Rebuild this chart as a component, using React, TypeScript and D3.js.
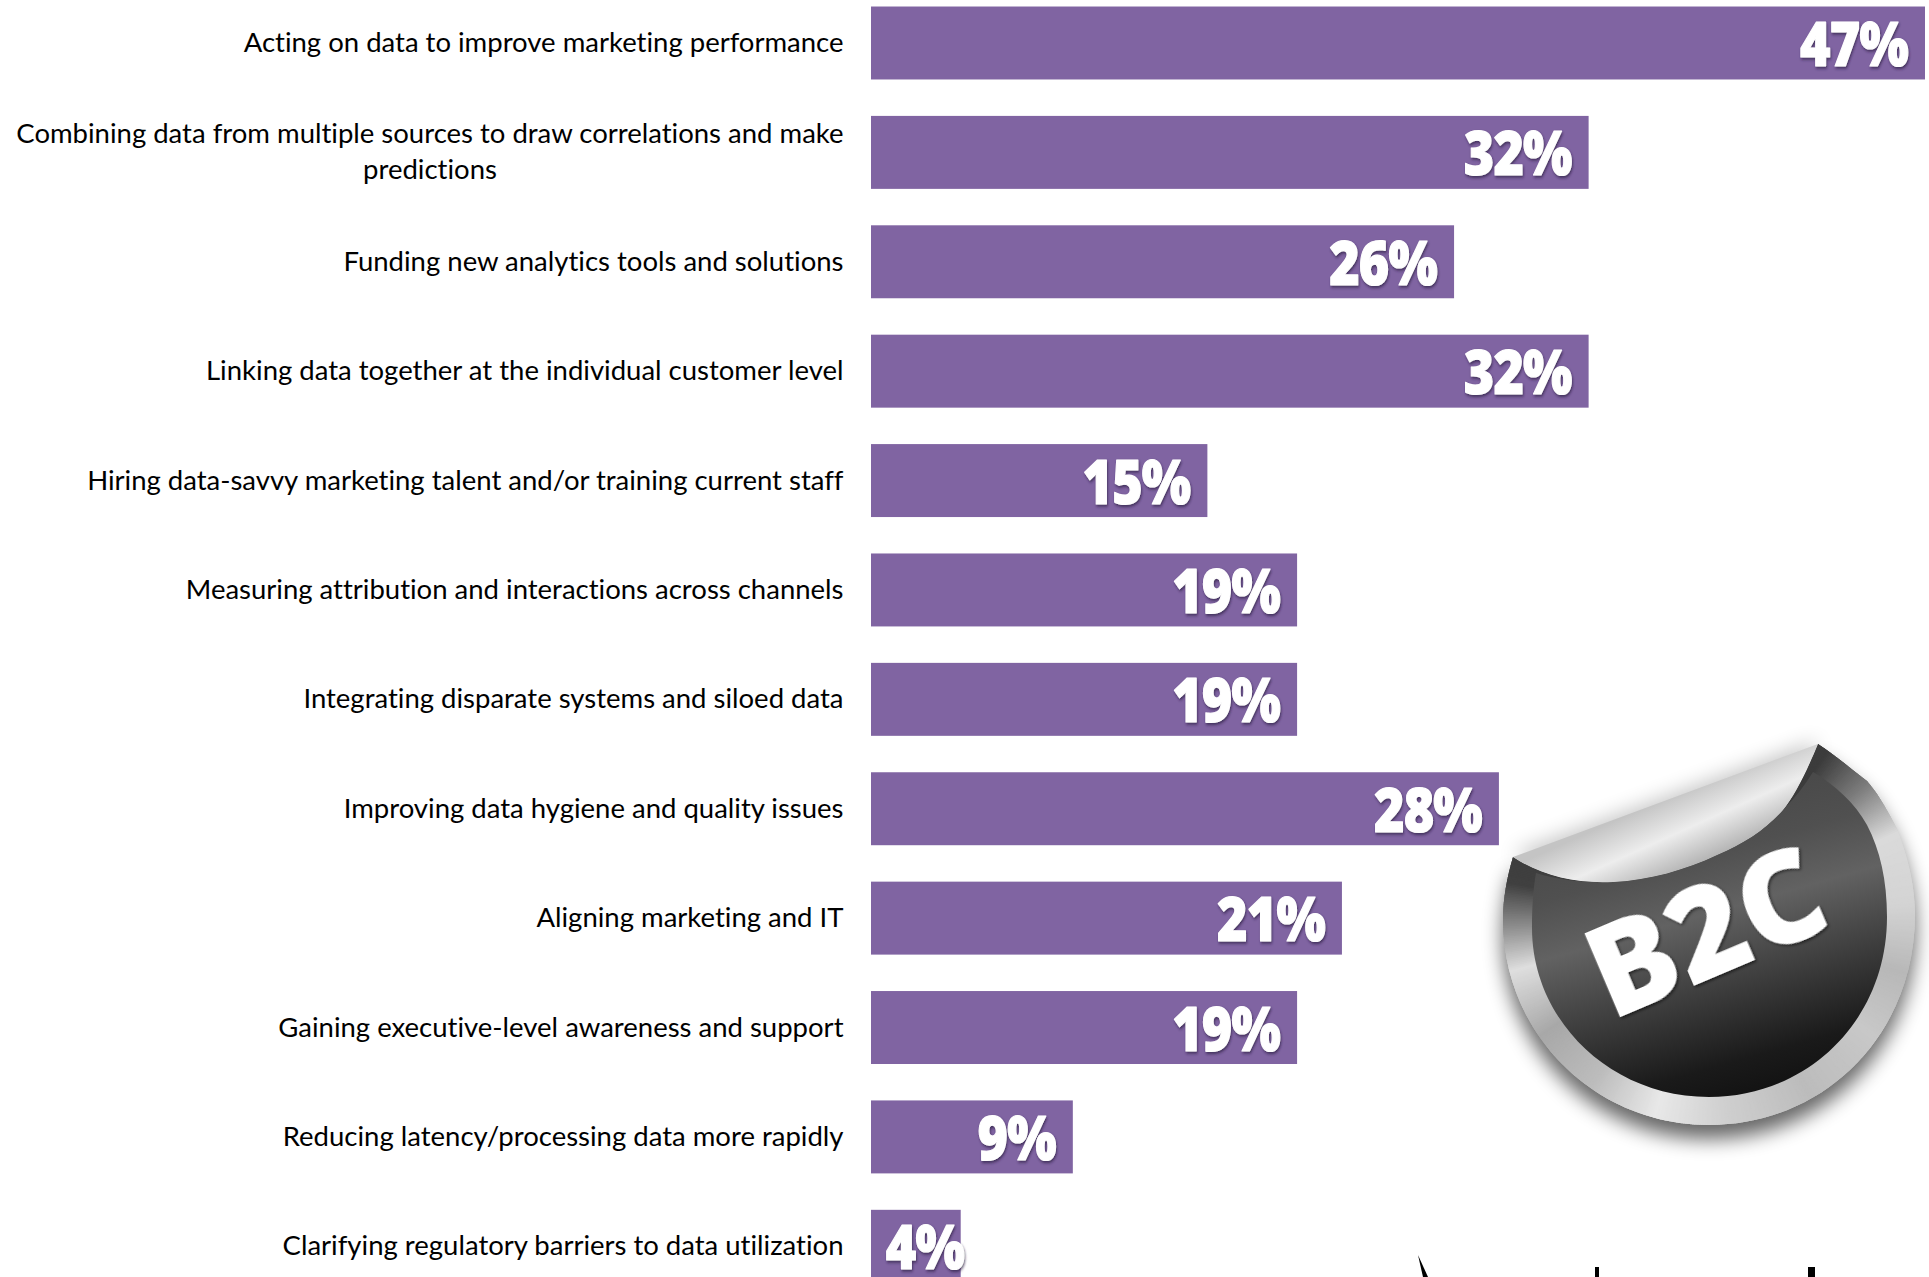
import React, { useEffect, useRef } from "react";
import * as d3 from "d3";

const categories = [
  ["Acting on data to improve marketing performance"],
  ["Combining data from multiple sources to draw correlations and make", "predictions"],
  ["Funding new analytics tools and solutions"],
  ["Linking data together at the individual customer level"],
  ["Hiring data-savvy marketing talent and/or training current staff"],
  ["Measuring attribution and interactions across channels"],
  ["Integrating disparate systems and siloed data"],
  ["Improving data hygiene and quality issues"],
  ["Aligning marketing and IT"],
  ["Gaining executive-level awareness and support"],
  ["Reducing latency/processing data more rapidly"],
  ["Clarifying regulatory barriers to data utilization"],
];
const values = [47, 32, 26, 32, 15, 19, 19, 28, 21, 19, 9, 4];

const ringAngles = [0, 35, 50, 65, 85, 105, 125, 150, 175, 195, 215, 235, 255, 268, 280, 300, 360];
const ringColors = ["#3c3c3c", "#3c3c3c", "#808080", "#dadada", "#d4d4d4", "#b8b8b8", "#c8c8c8", "#bcbcbc", "#cfcfcf", "#e8e8e8", "#bcbcbc", "#a8a8a8", "#dedede", "#8a8a8a", "#404040", "#3a3a3a", "#3c3c3c"];

const W = 1929, H = 1277;
const PURPLE = "#8064a2";

function Sticker() {
  const fold = "C1805,775 1795,795 1783,810 C1765,830 1745,843 1717,855 C1685,870 1650,880 1613,882 C1575,884 1540,875 1513,857";
  const outer = `M1513,857 C1507,878 1503,898 1503,920 C1503,1034 1595,1125 1709,1125 C1825,1125 1915,1034 1915,915 C1915,880 1905,850 1897,829 C1885,805 1875,790 1867,781 C1850,768 1835,755 1818,744 ${fold} Z`;
  const inner = "M1536,873 C1533,890 1532,908 1532,928 C1532,1020 1610,1097 1709,1097 C1808,1097 1887,1020 1887,917 C1887,880 1880,850 1867,825 C1855,803 1835,785 1813,772 C1805,785 1795,798 1783,810 C1765,830 1745,843 1717,855 C1685,870 1650,880 1613,882 C1585,883 1558,880 1536,873 Z";
  const flap = `M1513,857 L1818,744 ${fold} Z`;

  const angleScale = d3.scaleLinear<string>().domain(ringAngles).range(ringColors).interpolate(d3.interpolateRgb);
  const wedge = d3.arc<number>()
    .innerRadius(0)
    .outerRadius(280)
    .startAngle((a) => (a * Math.PI) / 180)
    .endAngle((a) => ((a + 1.2) * Math.PI) / 180);

  return (
    <g>
      <defs>
        <clipPath id="outerClip"><path d={outer} /></clipPath>
        <linearGradient id="face" gradientUnits="userSpaceOnUse" x1="1760" y1="1100" x2="1675" y2="800">
          <stop offset="0" stopColor="#111" />
          <stop offset="0.14" stopColor="#1a1a1a" />
          <stop offset="0.45" stopColor="#484848" />
          <stop offset="0.62" stopColor="#626262" />
          <stop offset="0.8" stopColor="#505050" />
          <stop offset="1" stopColor="#484848" />
        </linearGradient>
        <linearGradient id="flapG" gradientUnits="userSpaceOnUse" x1="1650" y1="805" x2="1680" y2="872">
          <stop offset="0" stopColor="#c4c4c4" />
          <stop offset="0.5" stopColor="#ededed" />
          <stop offset="1" stopColor="#b4b4b4" />
        </linearGradient>
        <filter id="shadow" x="-20%" y="-20%" width="140%" height="140%">
          <feGaussianBlur stdDeviation="10" />
        </filter>
        <filter id="txtShadow" x="-20%" y="-20%" width="140%" height="140%">
          <feDropShadow dx="1" dy="2" stdDeviation="1.5" floodColor="#000" floodOpacity="0.55" />
        </filter>
      </defs>
      <path d={outer} fill="#000" opacity={0.6} filter="url(#shadow)" transform="translate(0,14)" />
      <path d={flap} fill="#000" opacity={0.22} filter="url(#shadow)" transform="translate(0,-4)" />
      <g clipPath="url(#outerClip)">
        {d3.range(0, 360, 0.5).map((a) => (
          <path key={a} d={wedge(a) ?? ""} transform="translate(1709,919)" fill={angleScale(a)} />
        ))}
      </g>
      <path d={inner} fill="url(#face)" />
      <path d={flap} fill="url(#flapG)" />
      <text
        transform="translate(1611,1021) rotate(-23)"
        fontFamily="'Open Sans', sans-serif"
        fontWeight={800}
        fontSize={128}
        fill="#fff"
        filter="url(#txtShadow)"
      >
        B2C
      </text>
    </g>
  );
}

export default function App() {
  const gRef = useRef<SVGGElement>(null);

  useEffect(() => {
    const x = d3.scaleLinear().domain([0, 47]).range([871, 1925]);
    const y = d3.scaleBand<number>().domain(d3.range(12)).range([-11.7, 1301]).paddingInner(0.333).paddingOuter(0.1665);
    const g = d3.select(gRef.current!);
    g.selectAll("*").remove();

    g.selectAll("rect.bar")
      .data(values)
      .join("rect")
      .attr("class", "bar")
      .attr("x", x(0))
      .attr("y", (_, i) => y(i)!)
      .attr("width", (d) => x(d) - x(0))
      .attr("height", y.bandwidth())
      .attr("fill", PURPLE);

    const labels = g.selectAll("g.lab").data(categories).join("g").attr("class", "lab");
    labels.each(function (lines, i) {
      const cy = y(i)! + y.bandwidth() / 2;
      const sel = d3.select(this);
      const lh = 36;
      lines.forEach((line, k) => {
        const yy = cy + (k - (lines.length - 1) / 2) * lh + 9;
        sel
          .append("text")
          .attr("x", k === 0 ? 843.5 : 430)
          .attr("y", yy)
          .attr("text-anchor", k === 0 ? "end" : "middle")
          .attr("font-family", "Lato, sans-serif")
          .attr("font-size", 27.5)
          .style("font-variant-ligatures", "none")
          .attr("fill", "#000")
          .text(line);
      });
    });

    g.selectAll("text.val")
      .data(values)
      .join("text")
      .attr("class", "val")
      .attr("transform", (d, i) => `translate(${Math.max(x(d) - 17, 964)},${y(i)! + y.bandwidth() / 2 + 23}) scale(0.84,1)`)
      .attr("text-anchor", "end")
      .attr("font-family", "'Open Sans', sans-serif")
      .attr("font-weight", 800)
      .attr("font-size", 62)
      .attr("letter-spacing", -1)
      .attr("fill", "#fff")
      .attr("stroke", "#fff")
      .attr("stroke-width", 1.2)
      .attr("stroke-linejoin", "round")
      .attr("filter", "url(#valShadow)")
      .text((d) => `${d}%`);
  }, []);

  return (
    <svg width={W} height={H} style={{ position: "absolute", left: 0, top: 0, background: "#fff" }}>
      <defs>
        <filter id="valShadow" x="-10%" y="-10%" width="120%" height="130%">
          <feDropShadow dx="1" dy="2" stdDeviation="1.5" floodColor="#2a1a40" floodOpacity="0.7" />
        </filter>
      </defs>
      <g ref={gRef} />
      <Sticker />
      <path d="M1418,1255 L1428,1277 L1423,1277 Z" fill="#000" />
      <path d="M1595,1267 H1599 V1277 H1595 Z" fill="#000" />
      <path d="M1808,1267 H1815 V1277 H1808 Z" fill="#000" />
    </svg>
  );
}
